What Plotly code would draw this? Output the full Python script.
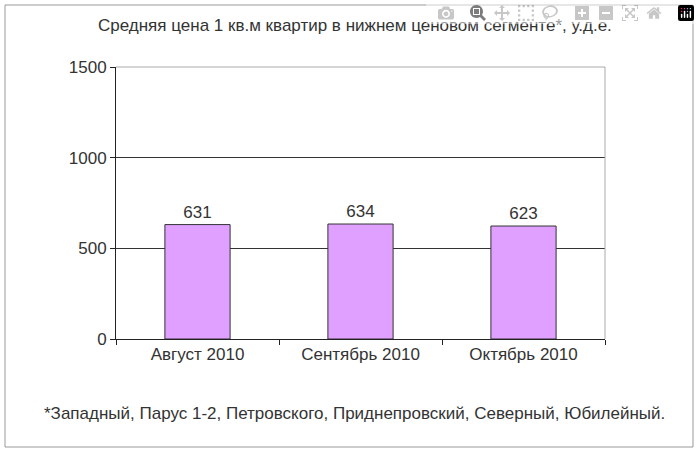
import plotly.graph_objects as go

categories = ["Август 2010", "Сентябрь 2010", "Октябрь 2010"]
values = [631, 634, 623]
title = "Средняя цена 1 кв.м квартир в нижнем ценовом сегменте*, у.д.е."
footnote = "*Западный, Парус 1-2, Петровского, Приднепровский, Северный, Юбилейный."

L, R, T, B, W, H = 116, 95, 67, 115, 700, 454
pw, ph = W - L - R, H - T - B
px = lambda x: (x - L) / pw
py = lambda y: (H - B - y) / ph

fig = go.Figure(go.Bar(
    x=categories, y=values, width=0.4,
    marker=dict(color="#E0A0FF", line=dict(color="#333333", width=1)),
    text=[str(v) for v in values], textposition="outside",
    textfont=dict(size=17, color="#333"), cliponaxis=False,
))
fig.update_layout(
    width=W, height=H, margin=dict(l=L, r=R, t=T, b=B),
    paper_bgcolor="white", plot_bgcolor="white",
    font=dict(family="Liberation Sans, Arial", size=17, color="#333"),
    showlegend=False,
    xaxis=dict(showline=True, linecolor="#222", ticks="outside", ticklen=5,
               tickcolor="#222", showgrid=False, tickson="boundaries",
               mirror=False),
    yaxis=dict(range=[0, 1500], tickvals=[0, 500, 1000, 1500],
               showline=True, linecolor="#222", ticks="outside", ticklen=5,
               tickcolor="#222", gridcolor="#333", gridwidth=1, zeroline=False),
    shapes=[
        dict(type="line", xref="paper", yref="paper", x0=0, x1=1, y0=1, y1=1,
             line=dict(color="#aaaaaa", width=1)),
        dict(type="line", xref="paper", yref="paper", x0=1, x1=1, y0=0, y1=1,
             line=dict(color="#aaaaaa", width=1)),
        dict(type="rect", xref="paper", yref="paper", x0=px(5), x1=px(693),
             y0=py(447), y1=py(5), line=dict(color="#999999", width=1)),
    ],
    annotations=[
        dict(text=title, xref="paper", yref="paper", x=px(355), y=py(25),
             showarrow=False, font=dict(size=17), xanchor="center", yanchor="middle"),
        dict(text=footnote, xref="paper", yref="paper", x=px(354), y=py(413),
             showarrow=False, font=dict(size=17), xanchor="center", yanchor="middle"),
    ],
)
fig.write_html("out.html")
with open("out.html", encoding="utf-8") as f:
    html = f.read()
html = html.replace("<head>", "<head><style>body{margin:0}</style>", 1)
with open("out.html", "w", encoding="utf-8") as f:
    f.write(html)
